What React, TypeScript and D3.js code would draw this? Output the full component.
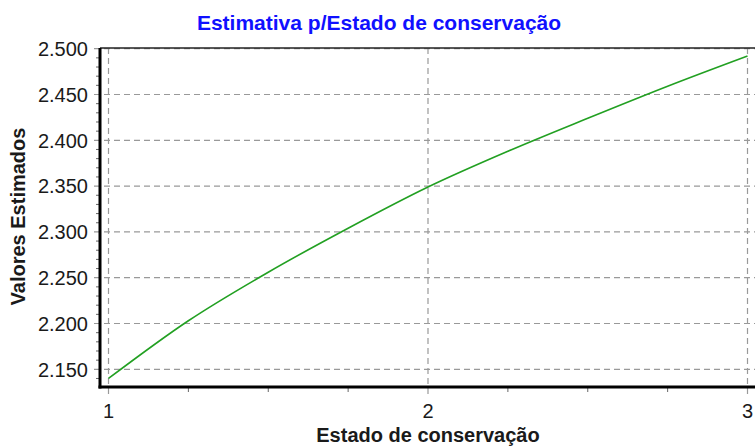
import React from 'react';
import * as d3 from 'd3';

// values
const estados = [1, 1.25, 1.5, 1.75, 2, 2.25, 2.5, 2.75, 3];
const valores = [2.140, 2.203, 2.256, 2.304, 2.349, 2.388, 2.424, 2.459, 2.492];
const yTicks = [2.15, 2.2, 2.25, 2.3, 2.35, 2.4, 2.45, 2.5];
const xTicks = [1, 2, 3];
const xMinor = [1.25, 1.5, 1.75, 2.25, 2.5, 2.75];
const yMinor = d3.range(2.14, 2.5, 0.01).map(v => +v.toFixed(2)).filter(v => !yTicks.includes(v));

const titulo = 'Estimativa p/Estado de conservação';
const tituloX = 'Estado de conservação';
const tituloY = 'Valores Estimados';

const W = 755;
const H = 447;
const left = 100;
const top = 48;
const bottom = 387;
const font = '"Liberation Sans", Arial, sans-serif';

const App = () => {
	const x = d3.scaleLinear().domain([1, 3]).range([108.5, 747.5]);
	const y = d3.scaleLinear().domain([2.1307, 2.5]).range([bottom, 48.7]);

	const line = d3.line<number>()
		.x((d, i) => x(estados[i]))
		.y(d => y(d))
		.curve(d3.curveMonotoneX);

	return (
		<svg width={W} height={H} style={{ position: 'absolute', left: 0, top: 0, background: '#fff' }}>
			<text x={379} y={30} textAnchor="middle" fontFamily={font} fontSize={21} fontWeight="bold" fill="#1010ff">
				{titulo}
			</text>

			{/* grid */}
			{yTicks.map(t => (
				<line key={'gy' + t} x1={94} x2={W} y1={y(t)} y2={y(t)} stroke="#999" strokeWidth={1.2} strokeDasharray="6,4" />
			))}
			{xTicks.map(t => (
				<line key={'gx' + t} x1={x(t)} x2={x(t)} y1={top} y2={bottom + 9} stroke="#999" strokeWidth={1.2} strokeDasharray="6,4" />
			))}

			{/* minor ticks */}
			{yMinor.map(t => (
				<line key={'my' + t} x1={96} x2={99} y1={y(t)} y2={y(t)} stroke="#666" strokeWidth={1} />
			))}
			{xMinor.map(t => (
				<line key={'mx' + t} x1={x(t)} x2={x(t)} y1={bottom + 1} y2={bottom + 5} stroke="#666" strokeWidth={1} />
			))}

			{/* frame */}
			<line x1={left} x2={W} y1={top} y2={top} stroke="#222" strokeWidth={1.5} />
			<line x1={left} x2={left} y1={top} y2={bottom + 1.5} stroke="#000" strokeWidth={3} />
			<line x1={left - 1.5} x2={W} y1={bottom} y2={bottom} stroke="#000" strokeWidth={3} />

			<path d={line(valores) || ''} fill="none" stroke="#22a022" strokeWidth={1.6} />

			{/* tick labels */}
			{yTicks.map(t => (
				<text key={'ly' + t} x={88} y={y(t)} dy="0.36em" textAnchor="end" fontFamily={font} fontSize={20} fill="#1a1a1a">
					{d3.format('.3f')(t)}
				</text>
			))}
			{xTicks.map(t => (
				<text key={'lx' + t} x={x(t)} y={418} textAnchor="middle" fontFamily={font} fontSize={20} fill="#1a1a1a">
					{t}
				</text>
			))}

			<text x={428} y={442} textAnchor="middle" fontFamily={font} fontSize={20} fontWeight="bold" fill="#1a1a1a">
				{tituloX}
			</text>
			<text transform="translate(25,216.5) rotate(-90)" textAnchor="middle" fontFamily={font} fontSize={20} fontWeight="bold" fill="#1a1a1a">
				{tituloY}
			</text>
		</svg>
	);
};

export default App;
